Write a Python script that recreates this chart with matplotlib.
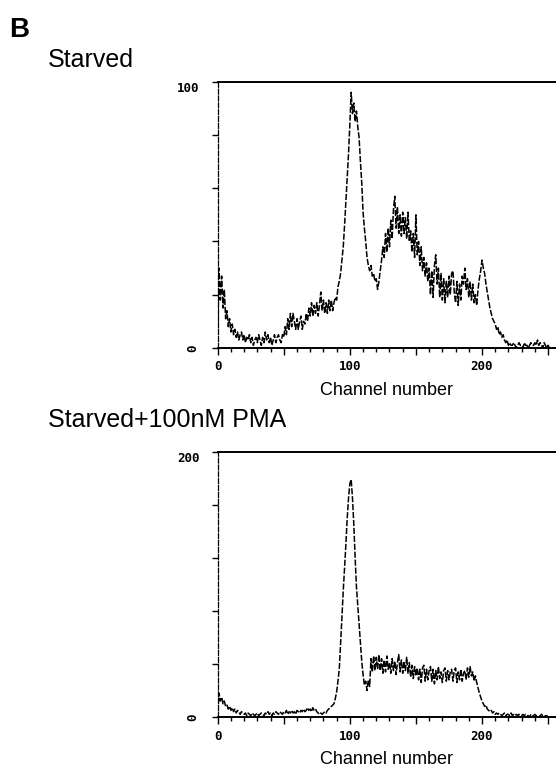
import matplotlib
matplotlib.use("Agg")
import matplotlib.pyplot as plt
import numpy as np

# ---------------- data ----------------
channels = list(range(256))

starved = [
    5, 30, 18, 27, 15, 22, 11, 14, 8, 11,
    6, 9, 5, 7, 4, 6, 3, 5, 6, 3,
    5, 2, 4, 3, 5, 2, 4, 1, 3, 4,
    2, 5, 3, 1, 4, 2, 6, 3, 5, 2,
    4, 1, 3, 5, 2, 4, 5, 3, 2, 5,
    4, 8, 5, 11, 7, 13, 8, 13, 10, 7,
    11, 7, 10, 12, 7, 10, 9, 13, 10, 15,
    12, 17, 12, 16, 13, 17, 12, 16, 21, 14,
    18, 13, 17, 13, 18, 14, 18, 14, 17, 19,
    18, 23, 25, 28, 33, 38, 46, 55, 64, 73,
    84, 96, 88, 92, 85, 89, 83, 79, 70, 62,
    51, 45, 40, 34, 31, 29, 31, 27, 28, 25,
    26, 22, 25, 29, 33, 38, 34, 43, 36, 45,
    38, 48, 41, 52, 57, 45, 53, 43, 50, 42,
    51, 43, 49, 41, 51, 40, 44, 36, 43, 34,
    50, 35, 40, 31, 38, 29, 34, 27, 32, 25,
    30, 20, 29, 19, 31, 35, 24, 30, 19, 28,
    18, 26, 17, 25, 19, 27, 20, 28, 29, 21,
    17, 25, 16, 24, 18, 27, 24, 30, 22, 26,
    19, 25, 18, 24, 17, 20, 16, 22, 26, 29,
    33, 30, 28, 24, 21, 18, 15, 13, 11, 10,
    9, 7, 8, 5, 6, 4, 5, 3, 2, 3,
    1, 2, 1, 1, 2, 1, 0, 1, 2, 1,
    1, 0, 2, 1, 1, 0, 1, 2, 1, 1,
    2, 1, 3, 1, 2, 1, 0, 2, 1, 0,
    1, 0, 0, 0, 0, 0,
]

pma = [
    4, 18, 12, 15, 10, 12, 8, 9, 6, 8,
    5, 7, 4, 6, 3, 5, 4, 2, 4, 3,
    2, 3, 1, 3, 2, 1, 3, 2, 1, 2,
    3, 1, 2, 3, 2, 1, 3, 2, 4, 2,
    3, 1, 3, 2, 4, 3, 2, 4, 3, 2,
    4, 3, 5, 2, 4, 3, 5, 3, 4, 2,
    5, 4, 3, 5, 4, 6, 4, 5, 7, 5,
    6, 4, 7, 5, 6, 4, 3, 2, 3, 2,
    3, 4, 3, 5, 6, 7, 8, 9, 10, 14,
    19, 27, 36, 55, 75, 95, 112, 130, 150, 165,
    176, 179, 165, 145, 120, 98, 84, 70, 56, 42,
    32, 24, 27, 20, 28, 23, 44, 34, 46, 35,
    45, 36, 47, 35, 44, 33, 43, 34, 46, 36,
    41, 33, 44, 35, 42, 32, 41, 47, 34, 43,
    33, 42, 35, 45, 33, 41, 30, 39, 29, 38,
    31, 37, 28, 36, 26, 37, 39, 27, 36, 28,
    35, 38, 27, 36, 25, 35, 28, 38, 29, 34,
    26, 35, 37, 27, 35, 28, 34, 36, 27, 35,
    37, 26, 34, 28, 36, 27, 33, 35, 28, 37,
    30, 38, 31, 34, 27, 31, 26, 22, 18, 15,
    12, 10, 8, 9, 6, 5, 4, 5, 3, 4,
    2, 3, 2, 3, 2, 1, 2, 3, 1, 2,
    2, 1, 3, 1, 2, 1, 2, 1, 2, 1,
    1, 2, 1, 2, 1, 1, 0, 2, 1, 1,
    2, 1, 1, 0, 1, 2, 1, 0, 1, 1,
    0, 0, 0, 0, 0, 0,
]

panels = [
    ("Starved", starved, 100),
    ("Starved+100nM PMA", pma, 200),
]

x_major = [0, 50, 100, 150, 200, 250]
x_major_labels = ["0", "", "100", "", "200", ""]
x_minor = list(range(0, 256, 10))

# ---------------- figure ----------------
W, H = 556, 771
fig = plt.figure(figsize=(W / 100, H / 100), dpi=100)
fig.patch.set_facecolor("white")

def fx(px):
    return px / W

def fy(py):
    return 1 - py / H

font = "Liberation Sans"
mono = "DejaVu Sans Mono"

fig.text(fx(9), fy(30), "B", fontsize=20, fontweight="bold", family=font,
         va="center", ha="left")

axes_boxes = [
    (217.7, 81.7, 348.0),
    (217.7, 451.7, 717.0),
]
title_y = [60, 420]

for (title, vals, ymax), (left, top, bottom), ty in zip(panels, axes_boxes, title_y):
    fig.text(fx(48), fy(ty), title, fontsize=18, family=font, va="center", ha="left")
    ax = fig.add_axes([fx(left), fy(bottom), 1 - fx(left), (bottom - top) / H])
    ax.plot(channels, vals, color="black", lw=1.1, ls=(0, (4, 1.2)))
    ax.set_xlim(0, 256)
    ax.set_ylim(0, ymax)

    ax.spines["right"].set_visible(False)
    ax.spines["top"].set_linewidth(1.4)
    ax.spines["bottom"].set_linewidth(1.4)
    ax.spines["left"].set_linewidth(0.9)
    ax.spines["left"].set_linestyle((0, (4, 1.5)))

    ax.set_xticks(x_major)
    ax.set_xticklabels(x_major_labels, family=mono, fontsize=9, fontweight="bold")
    ax.set_xticks(x_minor, minor=True)
    ax.tick_params(axis="x", which="major", length=5, width=1, direction="out", pad=4)
    ax.tick_params(axis="x", which="minor", length=3, width=1, direction="out")

    yt = list(np.linspace(0, ymax, 6))
    ax.set_yticks(yt)
    ax.set_yticklabels(["0", "", "", "", "", str(ymax)], family=mono,
                       fontsize=9, fontweight="bold")
    ax.tick_params(axis="y", which="major", length=4, width=1, direction="out", pad=9)
    labs = ax.get_yticklabels()
    labs[0].set_rotation(90)
    labs[0].set_va("center")
    labs[-1].set_va("top")

    ax.set_xlabel("Channel number", family=font, fontsize=13, labelpad=6)

fig.savefig("out.png", dpi=100, facecolor="white")
